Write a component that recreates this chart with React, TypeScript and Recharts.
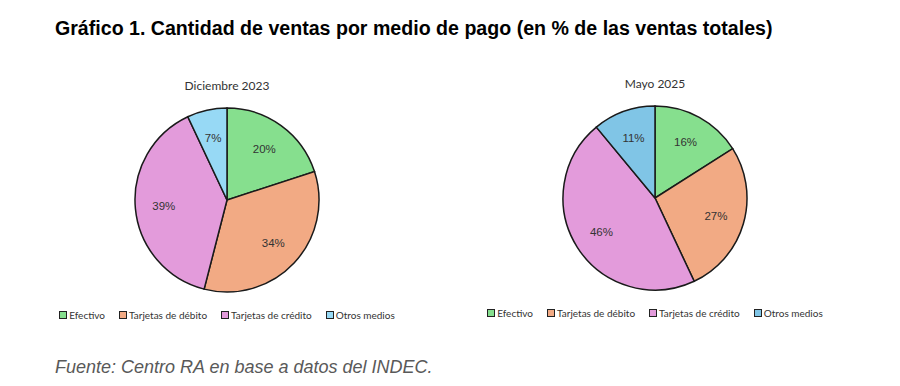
import React from "react";
import { Cell, Legend, Pie, PieChart } from "recharts";

const MEDIOS = ["Efectivo", "Tarjetas de débito", "Tarjetas de crédito", "Otros medios"];
const DIC_2023 = [20, 34, 39, 7];
const MAY_2025 = [16, 27, 46, 11];

const COLORS_DIC = ["#86df8e", "#f2aa84", "#e39bdb", "#97d9f5"];
const COLORS_MAY = ["#86df8e", "#f2aa84", "#e39bdb", "#80c5e6"];

const FONT = "Lato, 'Open Sans', sans-serif";

const toRows = (values: number[]) => MEDIOS.map((name, i) => ({ name, value: values[i] }));

const RADIAN = Math.PI / 180;

function renderPct(props: any) {
  const { cx, cy, midAngle, outerRadius, value } = props;
  const r = outerRadius * 0.69;
  const x = cx + r * Math.cos(-midAngle * RADIAN);
  const y = cy + r * Math.sin(-midAngle * RADIAN);
  return (
    <text x={x} y={y} textAnchor="middle" dominantBaseline="central" fontSize={11.5} fill="#333" fontFamily="Arial, 'Liberation Sans', sans-serif">
      {`${value}%`}
    </text>
  );
}

function LegendBox({ colors }: { colors: string[] }) {
  return (
    <div style={{ display: "flex", justifyContent: "center", gap: 14, fontFamily: FONT, fontSize: 10, color: "#333" }}>
      {MEDIOS.map((m, i) => (
        <span key={m} style={{ display: "flex", alignItems: "center" }}>
          <span
            style={{
              display: "inline-block",
              width: 6,
              height: 6,
              background: colors[i],
              border: "1.2px solid #222",
              marginRight: 2,
            }}
          />
          {m}
        </span>
      ))}
    </div>
  );
}

function PaymentPie({ title, values, colors }: { title: string; values: number[]; colors: string[] }) {
  return (
    <div style={{ width: 400, height: 270, position: "relative", background: "#fff" }}>
      <div style={{ position: "absolute", top: 13, width: "100%", textAlign: "center", fontFamily: FONT, fontSize: 12, color: "#333" }}>
        {title}
      </div>
      <PieChart width={400} height={270} margin={{ top: 0, right: 0, bottom: 0, left: 0 }}>
        <Pie
          data={toRows(values)}
          dataKey="value"
          nameKey="name"
          cx={200}
          cy={135}
          outerRadius={92}
          startAngle={90}
          endAngle={-270}
          stroke="#1a1a1a"
          strokeWidth={1.5}
          label={renderPct}
          labelLine={false}
          isAnimationActive={false}
        >
          {values.map((_, i) => (
            <Cell key={i} fill={colors[i]} />
          ))}
        </Pie>
        <Legend verticalAlign="bottom" wrapperStyle={{ bottom: 14 }} content={() => <LegendBox colors={colors} />} />
      </PieChart>
    </div>
  );
}

export default function App() {
  return (
    <div style={{ position: "absolute", left: 0, top: 0, width: 900, height: 386, background: "#fff", fontFamily: "Arial, 'Liberation Sans', sans-serif" }}>
      <div style={{ position: "absolute", left: 55, top: 17, fontSize: 19.6, fontWeight: "bold", color: "#000" }}>
        Gráfico 1. Cantidad de ventas por medio de pago (en % de las ventas totales)
      </div>
      <div style={{ position: "absolute", left: 27, top: 65 }}>
        <PaymentPie title="Diciembre 2023" values={DIC_2023} colors={COLORS_DIC} />
      </div>
      <div style={{ position: "absolute", left: 455, top: 63 }}>
        <PaymentPie title="Mayo 2025" values={MAY_2025} colors={COLORS_MAY} />
      </div>
      <div style={{ position: "absolute", left: 55, top: 357, fontSize: 18, fontStyle: "italic", color: "#595959" }}>
        Fuente: Centro RA en base a datos del INDEC.
      </div>
    </div>
  );
}
